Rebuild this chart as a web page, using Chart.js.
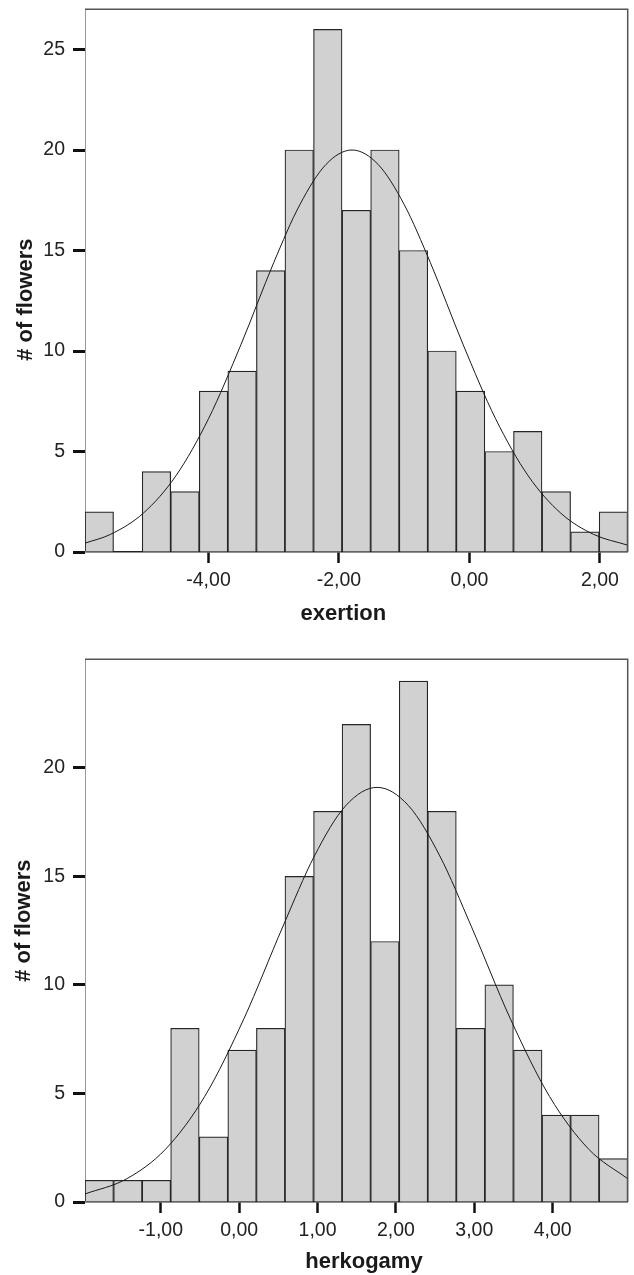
<!DOCTYPE html>
<html><head><meta charset="utf-8">
<script src="https://cdn.jsdelivr.net/npm/chart.js@4"></script>
<style>
html,body{margin:0;padding:0;background:#fff;overflow:hidden;width:634px;height:1275px}
.box{position:absolute;left:0;width:634px}
#b1{top:0;height:637px}
#b2{top:650px;height:625px}
</style></head><body>
<div class="box" id="b1"><canvas id="c1"></canvas></div>
<div class="box" id="b2"><canvas id="c2"></canvas></div>
<script>
// ---- exertion histogram ----
const exertionBins = [-5.674,-5.236,-4.798,-4.361,-3.923,-3.485,-3.047,-2.610,-2.172,-1.734,-1.296,-0.858,-0.421,0.017,0.455,0.893,1.331,1.769,2.206];
const exertionCounts = [2,0,4,3,8,9,14,20,26,17,20,15,10,8,5,6,3,1,2];
const exertionCurveX = [-5.893,-5.5,-5.0,-4.5,-4.0,-3.5,-3.0,-2.6,-2.2,-1.8,-1.4,-1.0,-0.6,-0.1,0.4,0.9,1.4,1.9,2.425];
const exertionCurveY = [0.44,0.88,1.93,3.79,6.63,10.34,14.40,17.28,19.28,20.0,19.28,17.28,14.40,10.34,6.63,3.79,1.93,0.88,0.34];
const exertionTicks = [-4,-2,0,2];
const exertionCountTicks = [0,5,10,15,20,25];

// ---- herkogamy histogram ----
const herkogamyBins = [-1.785,-1.420,-1.056,-0.692,-0.327,0.037,0.402,0.766,1.131,1.495,1.859,2.224,2.588,2.953,3.317,3.682,4.046,4.410,4.775];
const herkogamyCounts = [1,1,1,8,3,7,8,15,18,22,12,24,18,8,10,7,4,4,2];
const herkogamyCurveX = [-1.967,-1.44,-0.94,-0.44,0.06,0.56,0.96,1.36,1.76,2.16,2.56,2.96,3.46,3.96,4.46,4.957];
const herkogamyCurveY = [0.37,1.06,2.43,4.86,8.44,12.71,15.94,18.26,19.1,18.26,15.94,12.71,8.44,4.86,2.43,1.07];
const herkogamyTicks = [-1,0,1,2,3,4];
const herkogamyCountTicks = [0,5,10,15,20];

Chart.defaults.font.family = "'Liberation Sans', Arial, sans-serif";
Chart.defaults.color = '#222';

// linear scale whose axis title can be nudged along the axis
class OffsetLinearScale extends Chart.LinearScale {
  drawTitle() {
    const d = this.options.titleOffset || 0;
    const ctx = this.ctx;
    ctx.save();
    if (this.isHorizontal()) ctx.translate(d, 0); else ctx.translate(0, d);
    super.drawTitle();
    ctx.restore();
  }
}
OffsetLinearScale.id = 'offsetLinear';
OffsetLinearScale.defaults = Chart.LinearScale.defaults;
Chart.register(OffsetLinearScale);

const framePlugin = {
  id: 'frame',
  afterDatasetsDraw(chart) {
    const a = chart.chartArea, ctx = chart.ctx;
    ctx.save();
    ctx.strokeStyle = '#555';
    ctx.lineWidth = 1.5;
    ctx.beginPath();
    ctx.moveTo(a.left, a.top);
    ctx.lineTo(a.right, a.top);
    ctx.lineTo(a.right, a.bottom);
    ctx.stroke();
    ctx.restore();
  }
};

function makeChart(id, cfg) {
  const pts = (xs, ys) => xs.map((x, i) => ({x: x, y: ys[i]}));
  return new Chart(document.getElementById(id), {
    type: 'bar',
    data: {
      datasets: [
        {
          type: 'line',
          data: pts(cfg.curveX, cfg.curveY),
          borderColor: '#1a1a1a',
          borderWidth: 1,
          pointRadius: 0,
          fill: false,
          cubicInterpolationMode: 'monotone',
          order: 0
        },
        {
          type: 'bar',
          data: pts(cfg.bins, cfg.counts),
          backgroundColor: '#d0d1d0',
          borderColor: '#262626',
          borderWidth: 1.2,
          borderSkipped: 'start',
          barPercentage: 1,
          categoryPercentage: 1,
          order: 1
        }
      ]
    },
    options: {
      responsive: true,
      maintainAspectRatio: false,
      animation: false,
      events: [],
      layout: {padding: {top: 9.3, right: 6.3, left: 0, bottom: 0}},
      plugins: {legend: {display: false}, tooltip: {enabled: false}},
      scales: {
        x: {
          type: 'offsetLinear',
          titleOffset: cfg.xTitleShift,
          offset: false,
          min: cfg.xMin,
          max: cfg.xMax,
          afterBuildTicks: s => { s.ticks = cfg.xTicks.map(v => ({value: v})); },
          afterFit: s => { s.height = cfg.xAxisH; s.paddingLeft = 0; s.paddingRight = 0; },
          ticks: {
            autoSkip: false, maxRotation: 0, padding: 6,
            font: {size: 19.5},
            callback: v => Number(v).toFixed(2).replace('.', ',')
          },
          grid: {display: true, drawOnChartArea: false, drawTicks: true, offset: false,
                 tickLength: 11, tickWidth: 2.5, tickColor: '#111'},
          border: {display: true, color: '#222', width: 1.5},
          title: {display: true, text: cfg.xTitle, font: {size: 22, weight: 'bold'},
                  color: '#1a1a1a', padding: {top: 0, bottom: cfg.xTitlePad}}
        },
        y: {
          type: 'offsetLinear',
          titleOffset: cfg.yTitleShift,
          min: 0,
          max: cfg.yMax,
          afterBuildTicks: s => { s.ticks = cfg.yTicks.map(v => ({value: v})); },
          afterFit: s => { s.width = 85; s.paddingTop = 0; s.paddingBottom = 0; },
          ticks: {padding: 8, font: {size: 19.5}},
          grid: {display: true, drawOnChartArea: false, drawTicks: true,
                 tickLength: 12, tickWidth: 3, tickColor: '#111'},
          border: {display: true, color: '#999', width: 1},
          title: {display: true, text: '# of flowers', font: {size: 22, weight: 'bold'},
                  color: '#1a1a1a', padding: {top: cfg.yTitlePad, bottom: 0}}
        }
      }
    },
    plugins: [framePlugin]
  });
}

makeChart('c1', {
  bins: exertionBins, counts: exertionCounts,
  curveX: exertionCurveX, curveY: exertionCurveY,
  xTicks: exertionTicks, yTicks: exertionCountTicks,
  xMin: -5.893, xMax: 2.425, yMax: 27,
  xAxisH: 85, xTitle: 'exertion', xTitlePad: 10, yTitlePad: 12.4,
  xTitleShift: -13, yTitleShift: 19
});
makeChart('c2', {
  bins: herkogamyBins, counts: herkogamyCounts,
  curveX: herkogamyCurveX, curveY: herkogamyCurveY,
  xTicks: herkogamyTicks, yTicks: herkogamyCountTicks,
  xMin: -1.967, xMax: 4.957, yMax: 25,
  xAxisH: 73, xTitle: 'herkogamy', xTitlePad: 0, yTitlePad: 10.8,
  xTitleShift: 7.6, yTitleShift: -10
});
</script>
</body></html>
